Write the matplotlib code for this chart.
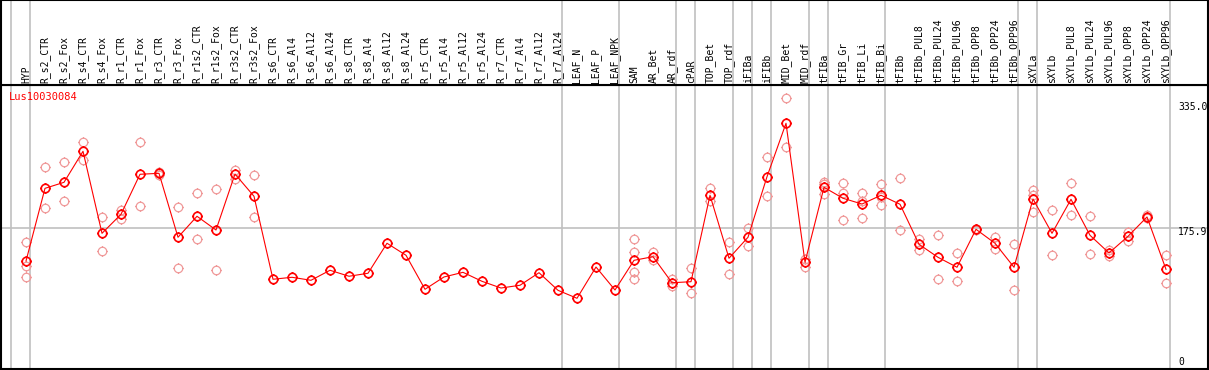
import matplotlib
matplotlib.use("Agg")
import matplotlib.pyplot as plt
from matplotlib.path import Path
import numpy as np

# sample labels (one per column)
samples = ['HYP', 'R_s2_CTR', 'R_s2_Fox', 'R_s4_CTR', 'R_s4_Fox', 'R_r1_CTR', 'R_r1_Fox',
           'R_r3_CTR', 'R_r3_Fox', 'R_r1s2_CTR', 'R_r1s2_Fox', 'R_r3s2_CTR', 'R_r3s2_Fox',
           'R_s6_CTR', 'R_s6_Al4', 'R_s6_Al12', 'R_s6_Al24', 'R_s8_CTR', 'R_s8_Al4',
           'R_s8_Al12', 'R_s8_Al24', 'R_r5_CTR', 'R_r5_Al4', 'R_r5_Al12', 'R_r5_Al24',
           'R_r7_CTR', 'R_r7_Al4', 'R_r7_Al12', 'R_r7_Al24', 'LEAF_N', 'LEAF_P', 'LEAF_NPK',
           'SAM', 'AR_Bet', 'AR_rdf', 'cPAR', 'TOP_Bet', 'TOP_rdf', 'iFIBa', 'iFIBb',
           'MID_Bet', 'MID_rdf', 'tFIBa', 'tFIB_Gr', 'tFIB_Li', 'tFIB_Bi', 'tFIBb',
           'tFIBb_PUL8', 'tFIBb_PUL24', 'tFIBb_PUL96', 'tFIBb_OPP8', 'tFIBb_OPP24',
           'tFIBb_OPP96', 'sXYLa', 'sXYLb', 'sXYLb_PUL8', 'sXYLb_PUL24', 'sXYLb_PUL96',
           'sXYLb_OPP8', 'sXYLb_OPP24', 'sXYLb_OPP96']

# mean expression per sample
means = [134.5, 226.6, 234.2, 273.5, 169.6, 193.7, 244.4, 245.6, 164.6, 191.2, 173.8,
         244.7, 216.5, 111.4, 113.9, 110.1, 122.8, 115.2, 119.0, 157.0, 141.8, 98.7,
         114.3, 120.2, 108.8, 100.3, 103.8, 119.7, 97.4, 87.3, 126.9, 97.8,
         135.4, 140.0, 107.0, 108.3, 217.8, 138.0, 164.6, 241.3, 309.0, 132.9,
         227.9, 214.0, 206.7, 217.8, 206.4, 155.7, 139.2, 126.6, 174.7, 157.0, 126.6,
         213.1, 169.6, 212.7, 167.1, 144.7, 165.8, 190.3, 124.0]

# individual replicates (empty where none visible)
replicates = [
    [158.2, 128.2, 113.9], [253.2, 201.3], [259.6, 210.2], [284.9, 262.1], [190.7, 147.2],
    [199.1, 187.7], [284.9, 203.8], [244.0, 247.0], [202.6, 125.3], [220.3, 162.0],
    [225.4, 122.8], [249.8, 238.0], [243.1, 189.9],
    [], [], [], [], [], [], [], [], [], [], [], [], [], [], [], [], [], [], [],
    [162.4, 145.6, 120.6, 112.1], [145.6, 135.4], [111.4, 103.2], [125.3, 93.6],
    [226.6, 210.9], [158.2, 117.7], [176.0, 153.2], [265.9, 216.5], [340.6, 278.6],
    [137.1, 127.3], [235.0, 232.1, 219.0], [233.0, 220.3, 186.1], [220.3, 210.9, 188.6],
    [231.7, 215.2, 205.1], [239.3, 173.4], [162.4, 148.1], [167.1, 111.4], [144.3, 108.8],
    [174.0, 175.0], [164.9, 149.4], [155.7, 97.4], [224.1, 217.8, 196.2], [198.8, 141.8],
    [233.0, 192.4], [191.2, 143.4], [148.5, 141.2], [171.3, 160.3], [193.2, 189.0],
    [141.8, 106.7]]

# group separators fall after these column indices
group_ends = [-1, 0, 28, 31, 34, 35, 37, 38, 39, 41, 42, 45, 52, 53, 60]

gene = 'Lus10030084'
ref_lines = [335.0, 175.9, 0]

W, H = 1209, 370
fig = plt.figure(figsize=(W / 100, H / 100), dpi=100)

x = np.arange(len(samples))
xlim = (-25 / 19, (1208 - 26) / 19)
ylim = ((367.2 - 369) / 0.7894, (367.2 - 85) / 0.7894)

ax = fig.add_axes([1 / W, 1 / H, 1207 / W, 284 / H])
hd = fig.add_axes([1 / W, 285 / H, 1207 / W, 85 / H])
for a in (ax, hd):
    a.set_xlim(*xlim)
    a.set_xticks([])
    a.set_yticks([])
    for s in a.spines.values():
        s.set_color('black')
        s.set_linewidth(1.5)
hd.set_ylim(0, 85)
ax.set_ylim(*ylim)

# separators
for g in group_ends:
    for a in (ax, hd):
        a.axvline(g + 0.2, color='#c0c0c0', lw=1.2, zorder=0)
ax.axhline(ref_lines[1], color='#c0c0c0', lw=1.2, zorder=0)

# marker: ring with four short ticks
th = np.linspace(0, 2 * np.pi, 41)
verts = [(np.cos(t), np.sin(t)) for t in th]
codes = [Path.MOVETO] + [Path.LINETO] * (len(th) - 1)
for dx, dy in [(1, 0), (-1, 0), (0, 1), (0, -1)]:
    verts += [(dx, dy), (1.25 * dx, 1.25 * dy)]
    codes += [Path.MOVETO, Path.LINETO]
ring = Path(verts, codes)

rx = [i for i, r in enumerate(replicates) for _ in r]
ry = [v for r in replicates for v in r]
ax.plot(rx, ry, ls='none', marker=ring, ms=7.6, mfc='none', mec='#f09a9a',
        mew=0.9, zorder=2)
ax.plot(x, means, color='#ff0000', lw=0.8, marker=ring, ms=7.6, mfc='none',
        mec='#ff0000', mew=1.2, zorder=3)

mono = 'DejaVu Sans Mono'
for i, lab in enumerate(samples):
    hd.text(i, 2, lab, rotation=90, ha='center', va='bottom', fontsize=7,
            family=mono, color='black')


# pixel placement (from top-left) like the original image
def px(xp, yp):
    return fig.transFigure.inverted().transform((xp, H - yp))


xf, yf = px(9, 97)
fig.text(xf, yf, gene, ha='left', va='center', fontsize=7.5, family=mono,
         color='#ff0000')

for val, yp in zip(ref_lines, [107, 232, 362]):
    label = f'{val:.1f}' if val else '0'
    xf, yf = px(1178, yp)
    fig.text(xf, yf, label, ha='left', va='center', fontsize=7, family=mono,
             color='black')

fig.savefig('out.png', dpi=100)
